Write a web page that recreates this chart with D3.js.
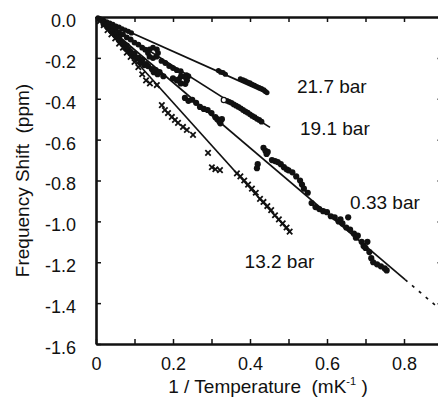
<!DOCTYPE html>
<html>
<head>
<meta charset="utf-8">
<script src="https://cdn.jsdelivr.net/npm/d3@7"></script>
<style>
  html, body { margin: 0; padding: 0; background: #fff; }
  svg { display: block; font-family: "Liberation Sans", Arial, Helvetica, sans-serif; }
</style>
</head>
<body>
<svg id="chart" width="438" height="401"></svg>
<script>
// ---------- data ----------
const xTicks = [0, 0.1, 0.2, 0.3, 0.4, 0.5, 0.6, 0.7, 0.8, 0.9];
const xTickLabels = ["0", "", "0.2", "", "0.4", "", "0.6", "", "0.8", ""];
const yTicks = [-1.6, -1.4, -1.2, -1.0, -0.8, -0.6, -0.4, -0.2, 0.0];
const yTickLabels = ["-1.6", "-1.4", "-1.2", "-1.0", "-0.8", "-0.6", "-0.4", "-0.2", "0.0"];

const seriesNames = ["21.7 bar", "19.1 bar", "0.33 bar", "13.2 bar"];

// fitted straight lines through origin: [xEnd, yEnd]
const fitEnds = [[0.44, -0.37], [0.452, -0.54], [0.803, -1.285], [0.503, -1.052]];
// dashed extension of the 0.33 bar fit
const dashedExt = [[0.803, -1.285], [0.9, -1.44]];

const p217 = [[0.005,-0.004],[0.012,-0.01],[0.02,-0.016],[0.028,-0.024],[0.036,-0.03],[0.044,-0.036],[0.052,-0.045],[0.06,-0.05],[0.068,-0.058],[0.076,-0.064],[0.084,-0.07],[0.092,-0.078],
  [0.318,-0.262],[0.324,-0.27],[0.33,-0.272],[0.336,-0.28],
  [0.375,-0.303],[0.382,-0.308],[0.388,-0.313],[0.394,-0.318],[0.40,-0.322],[0.406,-0.33],[0.412,-0.334],[0.418,-0.34],[0.424,-0.346],[0.43,-0.35],[0.436,-0.357],[0.44,-0.364],[0.444,-0.37]];

const p191 = [[0.01,-0.012],[0.02,-0.025],[0.03,-0.035],[0.04,-0.05],[0.05,-0.06],[0.06,-0.075],[0.07,-0.085],[0.08,-0.1],[0.09,-0.11],[0.1,-0.125],[0.11,-0.135],[0.12,-0.15],[0.128,-0.16],
  [0.161,-0.176],[0.158,-0.158],[0.148,-0.15],[0.139,-0.158],[0.135,-0.176],[0.139,-0.194],[0.148,-0.201],[0.157,-0.194],
  [0.17,-0.215],[0.18,-0.225],[0.19,-0.24],[0.2,-0.25],[0.21,-0.26],[0.22,-0.265],[0.235,-0.285],[0.24,-0.29],
  [0.34,-0.41],[0.346,-0.415],[0.352,-0.42],[0.358,-0.428],[0.364,-0.434],[0.37,-0.44],[0.376,-0.447],[0.382,-0.455],[0.388,-0.462],[0.394,-0.468],[0.40,-0.476],[0.406,-0.484],[0.412,-0.49],[0.418,-0.498],[0.424,-0.504],[0.43,-0.512]];
const p191open = [[0.332,-0.406]];

const p033 = [[0.02,-0.035],[0.03,-0.05],[0.04,-0.07],[0.05,-0.085],[0.055,-0.1],[0.06,-0.1],[0.065,-0.12],[0.07,-0.13],[0.075,-0.15],[0.08,-0.14],[0.085,-0.16],[0.09,-0.17],[0.095,-0.19],[0.1,-0.18],[0.105,-0.2],[0.11,-0.2],[0.115,-0.22],[0.12,-0.21],[0.125,-0.235],[0.13,-0.23],
  [0.135,-0.24],[0.145,-0.255],[0.15,-0.27],[0.155,-0.26],[0.16,-0.28],[0.165,-0.27],[0.175,-0.29],
  [0.236,-0.31],[0.231,-0.292],[0.221,-0.29],[0.215,-0.305],[0.22,-0.325],[0.232,-0.327],[0.2,-0.3],[0.21,-0.31],
  [0.231,-0.396],[0.24,-0.41],[0.25,-0.405],[0.26,-0.42],[0.27,-0.44],[0.28,-0.45],[0.29,-0.455],[0.3,-0.47],[0.31,-0.49],[0.315,-0.5],[0.32,-0.51],[0.327,-0.5],[0.323,-0.52],
  [0.435,-0.64],[0.44,-0.655],[0.443,-0.67],[0.446,-0.66],[0.42,-0.72],[0.418,-0.74],
  [0.457,-0.7],[0.465,-0.705],[0.472,-0.71],[0.48,-0.72],[0.488,-0.735],[0.495,-0.745],[0.5,-0.75],[0.51,-0.76],[0.52,-0.78],[0.53,-0.8],[0.535,-0.82],[0.54,-0.84],[0.55,-0.86],
  [0.56,-0.91],[0.57,-0.93],[0.58,-0.94],[0.59,-0.95],[0.6,-0.955],[0.61,-0.975],[0.62,-0.98],[0.63,-1.0],[0.635,-0.99],[0.64,-1.01],[0.65,-1.03],[0.655,-0.98],[0.66,-1.04],[0.67,-1.06],[0.675,-1.08],[0.68,-1.07],[0.69,-1.1],[0.695,-1.12],[0.70,-1.13],[0.705,-1.1],[0.71,-1.15],[0.715,-1.18],[0.72,-1.2],[0.73,-1.21],[0.74,-1.22],[0.75,-1.23],[0.755,-1.24]];

const p132 = [[0.01,-0.02],[0.02,-0.04],[0.03,-0.065],[0.04,-0.085],[0.05,-0.105],[0.06,-0.13],[0.07,-0.15],[0.08,-0.175],[0.09,-0.195],[0.1,-0.22],[0.11,-0.245],[0.12,-0.28],[0.13,-0.31],[0.14,-0.325],[0.158,-0.333],
  [0.171,-0.431],[0.179,-0.455],[0.187,-0.47],[0.197,-0.489],[0.205,-0.504],[0.213,-0.518],[0.226,-0.538],[0.236,-0.553],[0.252,-0.577],
  [0.291,-0.665],[0.301,-0.735],[0.31,-0.745],[0.322,-0.749],
  [0.366,-0.765],[0.375,-0.78],[0.385,-0.8],[0.395,-0.82],[0.405,-0.84],[0.415,-0.86],[0.426,-0.89],[0.435,-0.905],[0.445,-0.925],[0.455,-0.945],[0.465,-0.97],[0.475,-0.99],[0.485,-1.01],[0.495,-1.03],[0.503,-1.05]];

// label anchor positions in data units [x, y]
const labelPos = [[0.522, -0.37], [0.53, -0.577], [0.66, -0.94], [0.386, -1.228]];

// ---------- chart ----------
const svg = d3.select("#chart");
const x = d3.scaleLinear().domain([0, 0.9]).range([96, 442.5]);
const y = d3.scaleLinear().domain([-1.6, 0]).range([344, 17]);

// fit lines
const g = svg.append("g");
g.selectAll("line.fit").data(fitEnds).join("line")
  .attr("x1", x(0)).attr("y1", y(0))
  .attr("x2", d => x(d[0])).attr("y2", d => y(d[1]))
  .attr("stroke", "#111").attr("stroke-width", 1.7);
g.append("line")
  .attr("x1", x(dashedExt[0][0])).attr("y1", y(dashedExt[0][1]))
  .attr("x2", x(dashedExt[1][0])).attr("y2", y(dashedExt[1][1]))
  .attr("stroke", "#111").attr("stroke-width", 1.7).attr("stroke-dasharray", "3,6");

// dots
function dots(data, r) {
  g.append("g").selectAll("circle").data(data).join("circle")
    .attr("cx", d => x(d[0])).attr("cy", d => y(d[1])).attr("r", r).attr("fill", "#111");
}
dots(p217, 2.6);
dots(p191, 2.9);
dots(p033, 3.1);
g.append("g").selectAll("circle").data(p191open).join("circle")
  .attr("cx", d => x(d[0])).attr("cy", d => y(d[1])).attr("r", 2.6)
  .attr("fill", "#fff").attr("stroke", "#111").attr("stroke-width", 1.2);

// crosses
g.append("g").selectAll("path").data(p132).join("path")
  .attr("d", d => { const cx = x(d[0]), cy = y(d[1]), s = 2.7;
    return `M${cx-s},${cy-s}L${cx+s},${cy+s}M${cx-s},${cy+s}L${cx+s},${cy-s}`; })
  .attr("stroke", "#111").attr("stroke-width", 1.8).attr("fill", "none");

// axes
const fmtX = d => xTickLabels[xTicks.indexOf(d)];
const fmtY = d => yTickLabels[yTicks.indexOf(d)];

const ax = svg.append("g").attr("transform", `translate(0,${y(-1.6)})`)
  .call(d3.axisBottom(x).tickValues(xTicks).tickFormat(fmtX).tickSizeInner(-5).tickSizeOuter(0).tickPadding(13));
const axTop = svg.append("g").attr("transform", `translate(0,${y(0)})`)
  .call(d3.axisTop(x).tickValues(xTicks).tickFormat("").tickSizeInner(-5).tickSizeOuter(0));
const ay = svg.append("g").attr("transform", `translate(${x(0)},0)`)
  .call(d3.axisLeft(y).tickValues(yTicks).tickFormat(fmtY).tickSizeInner(-5).tickSizeOuter(0).tickPadding(20));
const ayR = svg.append("g").attr("transform", `translate(${x(0.9)},0)`)
  .call(d3.axisRight(y).tickValues(yTicks).tickFormat("").tickSizeInner(-5).tickSizeOuter(0));

[ax, axTop, ay, ayR].forEach(a => {
  a.select(".domain").attr("stroke", "#111").attr("stroke-width", 2.6);
  a.selectAll(".tick line").attr("stroke", "#111").attr("stroke-width", 1.5);
  a.selectAll(".tick text").attr("fill", "#111").attr("font-size", 18)
    .attr("font-family", '"Liberation Sans", Arial, sans-serif');
});
ay.selectAll(".tick text").attr("dy", "0.52em");

// axis titles
svg.append("text")
  .attr("transform", `translate(29,${(y(0) + y(-1.6)) / 2}) rotate(-90)`)
  .attr("text-anchor", "middle").attr("font-size", 19).attr("fill", "#111")
  .attr("xml:space", "preserve").style("white-space", "pre")
  .text("Frequency Shift  (ppm)");

const xt = svg.append("text")
  .attr("x", 268).attr("y", 393).attr("text-anchor", "middle")
  .attr("font-size", 19).attr("fill", "#111").style("white-space", "pre");
xt.append("tspan").text("1 / Temperature  (mK");
xt.append("tspan").attr("font-size", 11).attr("dy", -8).text("-1");
xt.append("tspan").attr("dy", 8).text(" )");

// series labels
svg.append("g").selectAll("text").data(seriesNames).join("text")
  .attr("x", (d, i) => x(labelPos[i][0])).attr("y", (d, i) => y(labelPos[i][1]))
  .attr("font-size", 19).attr("fill", "#111")
  .text(d => d);
</script>
</body>
</html>
